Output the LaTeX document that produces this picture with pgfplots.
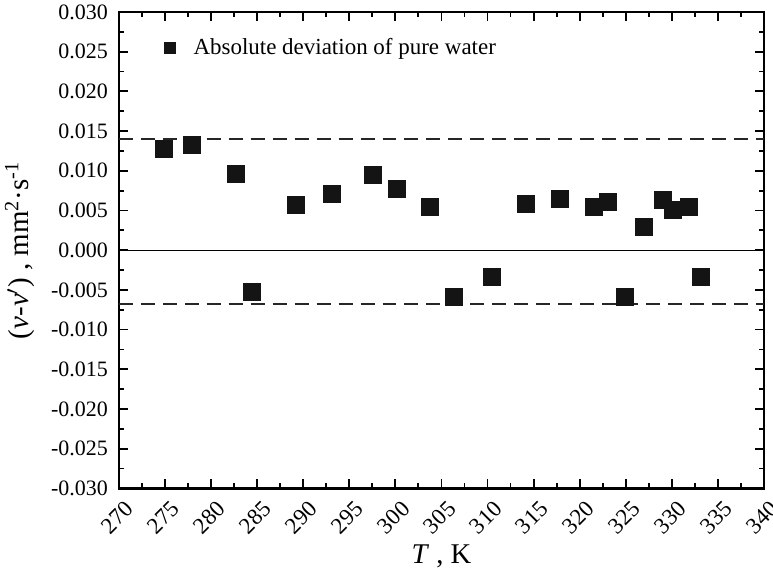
\documentclass[border=0pt]{standalone}
\usepackage{pgfplots}
\pgfplotsset{compat=1.18}
\usepackage{fontspec}
\setmainfont{Liberation Serif}

\begin{document}
\begin{tikzpicture}
  \begin{axis}[
      scale only axis,
      width=323pt, height=238.5pt,
      xmin=270, xmax=340,
      ymin=-0.03, ymax=0.03,
      xtick={270,275,...,340},
      ytick={-0.03,-0.025,...,0.031},
      minor x tick num=1,
      minor y tick num=1,
      tick align=inside,
      major tick length=4.5pt,
      minor tick length=2.5pt,
      every tick/.style={black, line width=0.9pt},
      axis line style={line width=1.3pt},
      /pgf/number format/assume math mode=true,
      yticklabel style={font=\fontsize{11}{13}\selectfont, xshift=-2pt,
        /pgf/number format/fixed, /pgf/number format/fixed zerofill, /pgf/number format/precision=3},
      scaled y ticks=false,
      % shift first (page frame), then rotate
      xticklabel style={font=\fontsize{11.5}{13}\selectfont, xshift=2.5pt, yshift=-5.5pt,
        rotate=45, anchor=north east, inner sep=0pt, /pgf/number format/1000 sep={}},
      xlabel={\textit{T} , K},
      ylabel={(\textit{ν}-\textit{ν}$'$) , mm\textsuperscript{2}·s\textsuperscript{-1}},
      every axis x label/.style={at={(axis description cs:0.5,0)}, yshift=-34pt, anchor=center,
        font=\fontsize{14.3}{16}\selectfont},
      every axis y label/.style={at={(axis description cs:0,0.5)}, xshift=-49.5pt, rotate=90, anchor=center,
        font=\fontsize{14.5}{16}\selectfont},
      legend style={draw=none, fill=none, inner sep=0pt, at={(0.0697,0.9245)}, anchor=west,
        font=\fontsize{11.5}{13}\selectfont},
      legend cell align=left,
      legend image code/.code={
        \fill[black!92] (0pt,-2.6pt) rectangle (5.2pt,2.6pt);
        \path (12.3pt,0pt);
      },
    ]
    \addplot[only marks, mark=square*, mark size=4.25pt, black!92, mark options={fill=black!92, draw=black!92}]
      coordinates {
        (274.9, 0.0128)
        (277.9, 0.0132)
        (282.7, 0.0096)
        (284.4, -0.0053)
        (289.2, 0.0057)
        (293.1, 0.0071)
        (297.6, 0.0095)
        (300.2, 0.0077)
        (303.8, 0.0054)
        (306.3, -0.0059)
        (310.5, -0.0034)
        (314.2, 0.0058)
        (317.9, 0.0064)
        (321.5, 0.0055)
        (323.1, 0.0061)
        (324.9, -0.0059)
        (327.0, 0.0029)
        (329.0, 0.0063)
        (330.1, 0.0051)
        (331.9, 0.0054)
        (333.1, -0.0034)
      };
    \addlegendentry{Absolute deviation of pure water}
    \addplot[black, line width=0.5pt, forget plot] coordinates {(270,0) (340,0)};
    \addplot[black!85, line width=0.7pt, dash pattern=on 7pt off 4pt, forget plot]
      coordinates {(270,0.0140) (340,0.0140)};
    \addplot[black!85, line width=0.7pt, dash pattern=on 7pt off 4pt, forget plot]
      coordinates {(270,-0.0068) (340,-0.0068)};
  \end{axis}
  \pgfresetboundingbox
  \path ([shift={(-59.5pt,-40pt)}]current axis.south west)
    rectangle ([shift={(4.5pt,6pt)}]current axis.north east);
\end{tikzpicture}
\end{document}
